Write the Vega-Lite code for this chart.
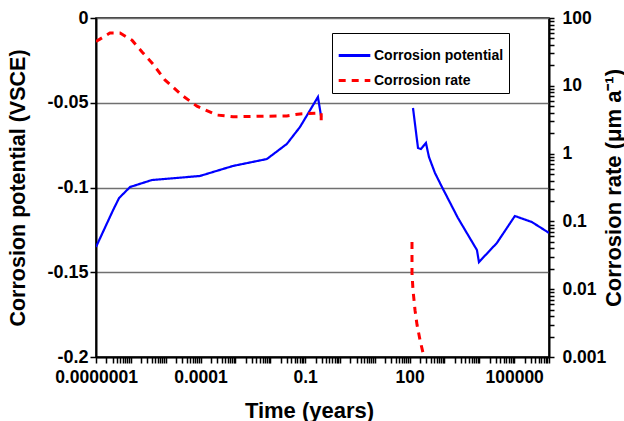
{
  "$schema": "https://vega.github.io/schema/vega-lite/v6.json",
  "autosize": "none",
  "width": 453,
  "height": 339,
  "padding": {"left": 96, "top": 18, "right": 75, "bottom": 64},
  "background": "white",
  "config": {
    "view": {"stroke": "black", "strokeWidth": 1.5},
    "font": "Liberation Sans",
    "axis": {
      "labelFont": "Liberation Sans",
      "labelFontWeight": "bold",
      "labelFontSize": 17.5,
      "labelColor": "black",
      "titleFont": "Liberation Sans",
      "titleFontWeight": "bold",
      "titleColor": "black",
      "domainColor": "black",
      "domainWidth": 2,
      "ticks": true,
      "tickColor": "#000000",
      "tickOpacity": 1,
      "tickWidth": 1.5,
      "tickSize": 6,
      "labelOverlap": false,
      "labelBound": false,
      "labelFlush": false
    },
    "legend": {
      "labelFont": "Liberation Sans",
      "labelFontWeight": "bold",
      "labelFontSize": 14,
      "labelColor": "black"
    }
  },
  "data": {
    "values": [
      {"series": "Corrosion potential", "seg": "p1", "o": 1, "t": 1e-7, "value": -0.1351},
      {"series": "Corrosion potential", "seg": "p1", "o": 2, "t": 3.1e-7, "value": -0.1133},
      {"series": "Corrosion potential", "seg": "p1", "o": 3, "t": 4.6e-7, "value": -0.1062},
      {"series": "Corrosion potential", "seg": "p1", "o": 4, "t": 9.5e-7, "value": -0.0997},
      {"series": "Corrosion potential", "seg": "p1", "o": 5, "t": 4.0e-6, "value": -0.0956},
      {"series": "Corrosion potential", "seg": "p1", "o": 6, "t": 9.6e-5, "value": -0.0932},
      {"series": "Corrosion potential", "seg": "p1", "o": 7, "t": 8.5e-4, "value": -0.0873},
      {"series": "Corrosion potential", "seg": "p1", "o": 8, "t": 8.0e-3, "value": -0.0832},
      {"series": "Corrosion potential", "seg": "p1", "o": 9, "t": 0.030, "value": -0.0743},
      {"series": "Corrosion potential", "seg": "p1", "o": 10, "t": 0.0715, "value": -0.0643},
      {"series": "Corrosion potential", "seg": "p1", "o": 11, "t": 0.234, "value": -0.0466},
      {"series": "Corrosion potential", "seg": "p1", "o": 12, "t": 0.29, "value": -0.0584},
      {"series": "Corrosion potential", "seg": "p2", "o": 13, "t": 125, "value": -0.0531},
      {"series": "Corrosion potential", "seg": "p2", "o": 14, "t": 174, "value": -0.0767},
      {"series": "Corrosion potential", "seg": "p2", "o": 15, "t": 212, "value": -0.0773},
      {"series": "Corrosion potential", "seg": "p2", "o": 16, "t": 294, "value": -0.0737},
      {"series": "Corrosion potential", "seg": "p2", "o": 17, "t": 359, "value": -0.0820},
      {"series": "Corrosion potential", "seg": "p2", "o": 18, "t": 533, "value": -0.0914},
      {"series": "Corrosion potential", "seg": "p2", "o": 19, "t": 848, "value": -0.0997},
      {"series": "Corrosion potential", "seg": "p2", "o": 20, "t": 2440, "value": -0.1180},
      {"series": "Corrosion potential", "seg": "p2", "o": 21, "t": 8550, "value": -0.1369},
      {"series": "Corrosion potential", "seg": "p2", "o": 22, "t": 9770, "value": -0.1440},
      {"series": "Corrosion potential", "seg": "p2", "o": 23, "t": 32000, "value": -0.1327},
      {"series": "Corrosion potential", "seg": "p2", "o": 24, "t": 105000, "value": -0.1168},
      {"series": "Corrosion potential", "seg": "p2", "o": 25, "t": 324000, "value": -0.1204},
      {"series": "Corrosion potential", "seg": "p2", "o": 26, "t": 1000000, "value": -0.1268},
      {"series": "Corrosion rate", "seg": "r1", "o": 1, "t": 1e-7, "value": 45},
      {"series": "Corrosion rate", "seg": "r1", "o": 2, "t": 2.5e-7, "value": 60},
      {"series": "Corrosion rate", "seg": "r1", "o": 3, "t": 4.9e-7, "value": 60},
      {"series": "Corrosion rate", "seg": "r1", "o": 4, "t": 1.08e-6, "value": 47},
      {"series": "Corrosion rate", "seg": "r1", "o": 5, "t": 2.1e-6, "value": 31.5},
      {"series": "Corrosion rate", "seg": "r1", "o": 6, "t": 4.3e-6, "value": 21},
      {"series": "Corrosion rate", "seg": "r1", "o": 7, "t": 9.5e-6, "value": 12.2},
      {"series": "Corrosion rate", "seg": "r1", "o": 8, "t": 2.9e-5, "value": 7.3},
      {"series": "Corrosion rate", "seg": "r1", "o": 9, "t": 7.9e-5, "value": 5.0},
      {"series": "Corrosion rate", "seg": "r1", "o": 10, "t": 3.0e-4, "value": 3.7},
      {"series": "Corrosion rate", "seg": "r1", "o": 11, "t": 8.5e-4, "value": 3.5},
      {"series": "Corrosion rate", "seg": "r1", "o": 12, "t": 0.03, "value": 3.6},
      {"series": "Corrosion rate", "seg": "r1", "o": 13, "t": 0.0715, "value": 3.85},
      {"series": "Corrosion rate", "seg": "r1", "o": 14, "t": 0.234, "value": 3.97},
      {"series": "Corrosion rate", "seg": "r1", "o": 15, "t": 0.29, "value": 3.97},
      {"series": "Corrosion rate", "seg": "r1", "o": 16, "t": 0.29, "value": 2.83},
      {"series": "Corrosion rate", "seg": "r2", "o": 17, "t": 117, "value": 0.0497},
      {"series": "Corrosion rate", "seg": "r2", "o": 18, "t": 117, "value": 0.0173},
      {"series": "Corrosion rate", "seg": "r2", "o": 19, "t": 125, "value": 0.0097},
      {"series": "Corrosion rate", "seg": "r2", "o": 20, "t": 143, "value": 0.0049},
      {"series": "Corrosion rate", "seg": "r2", "o": 21, "t": 163, "value": 0.003},
      {"series": "Corrosion rate", "seg": "r2", "o": 22, "t": 198, "value": 0.0018},
      {"series": "Corrosion rate", "seg": "r2", "o": 23, "t": 258, "value": 0.001}
    ]
  },
  "layer": [
    {
      "transform": [{"filter": "datum.series == 'Corrosion potential'"}],
      "mark": {"type": "line", "strokeWidth": 2.2, "clip": true},
      "encoding": {
        "x": {
          "field": "t", "type": "quantitative",
          "scale": {"type": "log", "domain": [1e-7, 1e6], "nice": false},
          "axis": {
            "title": "Time (years)",
            "titleFontSize": 22,
            "titleX": 213,
            "titleY": 53,
            "titleAlign": "center",
            "titleBaseline": "middle",
            "grid": false,
            "ticks": true,
            "tickSize": 6,
            "labelPadding": 5,
            "format": ".7~f",
            "labelExpr": "indexof(['0.0000001','0.0001','0.1','100','100000'], datum.label) >= 0 ? datum.label : ''",
            "values": [1e-7,2e-7,3e-7,4e-7,5e-7,6e-7,7e-7,8e-7,9e-7,
                       1e-6,2e-6,3e-6,4e-6,5e-6,6e-6,7e-6,8e-6,9e-6,
                       1e-5,2e-5,3e-5,4e-5,5e-5,6e-5,7e-5,8e-5,9e-5,
                       1e-4,2e-4,3e-4,4e-4,5e-4,6e-4,7e-4,8e-4,9e-4,
                       1e-3,2e-3,3e-3,4e-3,5e-3,6e-3,7e-3,8e-3,9e-3,
                       0.01,0.02,0.03,0.04,0.05,0.06,0.07,0.08,0.09,
                       0.1,0.2,0.3,0.4,0.5,0.6,0.7,0.8,0.9,
                       1,2,3,4,5,6,7,8,9,
                       10,20,30,40,50,60,70,80,90,
                       100,200,300,400,500,600,700,800,900,
                       1000,2000,3000,4000,5000,6000,7000,8000,9000,
                       10000,20000,30000,40000,50000,60000,70000,80000,90000,
                       100000,200000,300000,400000,500000,600000,700000,800000,900000,
                       1000000]
          }
        },
        "y": {
          "field": "value", "type": "quantitative",
          "scale": {"domain": [-0.2, 0], "nice": false, "zero": false},
          "axis": {
            "title": "Corrosion potential (VSCE)",
            "titleFontSize": 21.5,
            "titleAngle": -90,
            "titleX": -78,
            "titleY": 169.5,
            "titleAlign": "center",
            "titleBaseline": "middle",
            "values": [-0.2, -0.15, -0.1, -0.05, 0],
            "labelExpr": "datum.value == 0 ? '0' : '' + datum.value",
            "labelFontSize": 18,
            "labelPadding": 2,
            "ticks": true,
            "tickSize": 6,
            "grid": true,
            "gridColor": "#707070",
            "gridWidth": 1.3
          }
        },
        "color": {
          "field": "series", "type": "nominal",
          "scale": {"domain": ["Corrosion potential", "Corrosion rate"], "range": ["#0000ff", "#ff0000"]},
          "legend": {
            "title": null,
            "orient": "none",
            "legendX": 236,
            "legendY": 15,
            "strokeColor": "black",
            "fillColor": "white",
            "padding": 5,
            "symbolType": "stroke",
            "symbolSize": 1000,
            "symbolStrokeWidth": 3,
            "labelOffset": 2,
            "rowPadding": 0
          }
        },
        "strokeDash": {
          "field": "series", "type": "nominal",
          "scale": {"domain": ["Corrosion potential", "Corrosion rate"], "range": [[1, 0], [7, 6]]},
          "legend": {
            "title": null,
            "orient": "none",
            "legendX": 236,
            "legendY": 15,
            "strokeColor": "black",
            "fillColor": "white",
            "padding": 5,
            "symbolType": "stroke",
            "symbolSize": 1000,
            "symbolStrokeWidth": 3,
            "labelOffset": 2,
            "rowPadding": 0
          }
        },
        "detail": {"field": "seg"},
        "order": {"field": "o", "type": "quantitative"}
      }
    },
    {
      "transform": [{"filter": "datum.series == 'Corrosion rate'"}],
      "mark": {"type": "line", "strokeWidth": 3, "clip": true},
      "encoding": {
        "x": {"field": "t", "type": "quantitative", "scale": {"type": "log", "domain": [1e-7, 1e6], "nice": false}},
        "y": {
          "field": "value", "type": "quantitative",
          "scale": {"type": "log", "domain": [0.001, 100], "nice": false},
          "axis": {
            "orient": "right",
            "title": "Corrosion rate (μm a⁻¹)",
            "titleFontSize": 22,
            "titleAngle": -90,
            "titleX": 64,
            "titleY": 169.5,
            "titleAlign": "center",
            "titleBaseline": "middle",
            "grid": false,
            "ticks": true,
            "tickSize": 5,
            "labelPadding": 8,
            "format": ".3~f",
            "labelExpr": "indexof(['0.001','0.01','0.1','1','10','100'], datum.label) >= 0 ? datum.label : ''",
            "values": [0.001,0.002,0.003,0.004,0.005,0.006,0.007,0.008,0.009,
                       0.01,0.02,0.03,0.04,0.05,0.06,0.07,0.08,0.09,
                       0.1,0.2,0.3,0.4,0.5,0.6,0.7,0.8,0.9,
                       1,2,3,4,5,6,7,8,9,
                       10,20,30,40,50,60,70,80,90,100]
          }
        },
        "color": {"field": "series", "type": "nominal"},
        "strokeDash": {"field": "series", "type": "nominal"},
        "detail": {"field": "seg"},
        "order": {"field": "o", "type": "quantitative"}
      }
    }
  ],
  "resolve": {"scale": {"y": "independent"}}
}
